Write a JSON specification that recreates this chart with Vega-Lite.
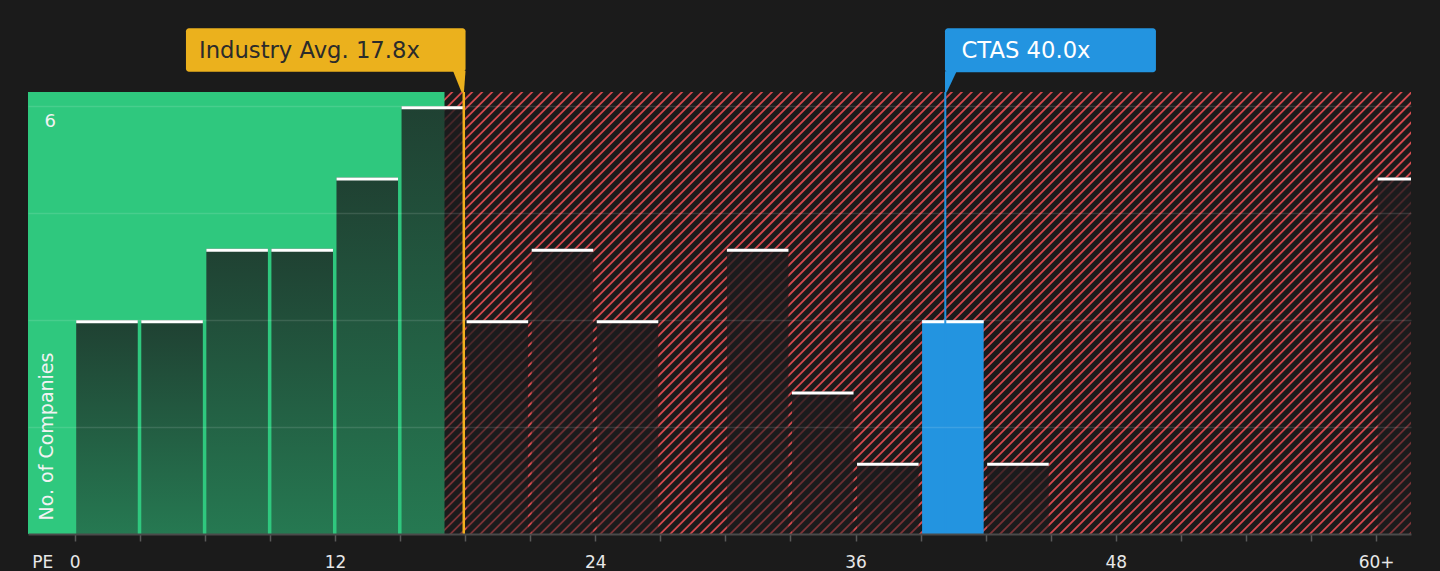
{
  "$schema": "https://vega.github.io/schema/vega-lite/v6.json",
  "width": 1383,
  "height": 442,
  "autosize": {"type": "none"},
  "padding": {"left": 28, "top": 92, "right": 29, "bottom": 37},
  "background": "#1b1b1b",
  "config": {"view": {"stroke": null}, "font": "DejaVu Sans"},
  "datasets": {
    "bins": [
      {"start": 0, "end": 3, "count": 3},
      {"start": 3, "end": 6, "count": 3},
      {"start": 6, "end": 9, "count": 4},
      {"start": 9, "end": 12, "count": 4},
      {"start": 12, "end": 15, "count": 5},
      {"start": 15, "end": 18, "count": 6},
      {"start": 18, "end": 21, "count": 3},
      {"start": 21, "end": 24, "count": 4},
      {"start": 24, "end": 27, "count": 3},
      {"start": 30, "end": 33, "count": 4},
      {"start": 33, "end": 36, "count": 2},
      {"start": 36, "end": 39, "count": 1},
      {"start": 39, "end": 42, "count": 3, "ctas": true},
      {"start": 42, "end": 45, "count": 1},
      {"start": 60, "end": 63, "count": 5}
    ]
  },
  "layer": [
    {
      "data": {"values": [{}]},
      "mark": {"type": "rule", "clip": true, "color": "#d64a4f", "strokeWidth": 1500, "strokeDash": [1.8, 5.27], "strokeCap": "butt"},
      "encoding": {
        "x": {
          "datum": -3.47, "type": "quantitative",
          "scale": {"domain": [-2.153, 61.61], "nice": false, "zero": false},
          "axis": {
            "title": null,
            "values": [-1.5, 0, 3, 6, 9, 12, 15, 18, 21, 24, 27, 30, 33, 36, 39, 42, 45, 48, 51, 54, 57, 60],
            "labelExpr": "datum.value < 0 ? 'PE' : (datum.value == 60 ? '60+' : (datum.value % 12 == 0 ? datum.label : ''))",
            "labelColor": "#e8e8e8",
            "labelFontSize": 17,
            "labelPadding": 13,
            "labelBaseline": "top",
            "labelOverlap": false,
            "labelFlush": false,
            "tickColor": "#5a5a5a",
            "tickSize": 7,
            "tickWidth": 1.5,
            "tickOpacity": {"condition": {"test": "datum.value < 0", "value": 0}, "value": 1},
            "domainColor": "#4a4a4a",
            "domainWidth": 2,
            "grid": false,
            "zindex": 1
          }
        },
        "x2": {"datum": 62.93},
        "y": {
          "datum": 13.19, "type": "quantitative",
          "scale": {"domain": [0, 6.2], "nice": false, "zero": false},
          "axis": {
            "title": "No. of Companies",
            "values": [1.5, 3, 4.5, 6],
            "labelExpr": "datum.value == 6 ? '6' : ''",
            "grid": true,
            "gridColor": "#ffffff",
            "gridOpacity": 0.12,
            "gridWidth": 1.5,
            "domain": false,
            "ticks": false,
            "tickSize": 0,
            "labelAlign": "left",
            "labelPadding": -16,
            "labelBaseline": "alphabetic",
            "labelOffset": 20.7,
            "labelColor": "#f2f2f2",
            "labelFontSize": 18,
            "titleColor": "#f2f2f2",
            "titleFontSize": 19,
            "titleFontWeight": "normal",
            "titleAngle": 270,
            "titleAlign": "left",
            "titleBaseline": "alphabetic",
            "titleX": 24,
            "titleY": 428,
            "zindex": 1
          }
        },
        "y2": {"datum": -6.99}
      }
    },
    {
      "data": {"values": [{}]},
      "mark": {"type": "rect", "clip": true, "color": "#2fc87e"},
      "encoding": {
        "x": {"datum": -3},
        "x2": {"datum": 17.05},
        "y": {"datum": 0},
        "y2": {"datum": 6.2}
      }
    },
    {
      "data": {"name": "bins"},
      "mark": {"type": "rect", "clip": true, "xOffset": 1.5, "x2Offset": -2},
      "encoding": {
        "x": {"field": "start", "type": "quantitative"},
        "x2": {"field": "end"},
        "y": {"field": "count", "type": "quantitative"},
        "y2": {"datum": 0},
        "fill": {
          "condition": {"test": "datum.ctas", "value": "#2394e0"},
          "value": {
            "gradient": "linear", "x1": 0, "y1": 0, "x2": 0, "y2": 1,
            "stops": [
              {"offset": 0, "color": "rgba(27,27,29,0.78)"},
              {"offset": 1, "color": "rgba(27,27,29,0.46)"}
            ]
          }
        }
      }
    },
    {
      "data": {"name": "bins"},
      "mark": {"type": "rule", "clip": true, "color": "#ffffff", "strokeWidth": 3, "xOffset": 1.5, "x2Offset": -2, "yOffset": 1.5},
      "encoding": {
        "x": {"field": "start", "type": "quantitative"},
        "x2": {"field": "end"},
        "y": {"field": "count", "type": "quantitative"}
      }
    },
    {
      "data": {"values": [{}]},
      "mark": {"type": "rule", "color": "#f2b01e", "strokeWidth": 2.5, "xOffset": 3},
      "encoding": {"x": {"datum": 17.8}, "y": {"datum": 0}, "y2": {"datum": 6.2}}
    },
    {
      "data": {"values": [{}]},
      "mark": {"type": "rule", "color": "#2394e0", "strokeWidth": 2, "xOffset": 3},
      "encoding": {"x": {"datum": 40}, "y": {"datum": 0}, "y2": {"datum": 6.2}}
    },
    {
      "data": {"values": [{}]},
      "mark": {"type": "rect", "color": "#ebb11d", "cornerRadius": 3},
      "encoding": {"x": {"datum": 5.13}, "x2": {"datum": 18.02}, "y": {"datum": 6.484}, "y2": {"datum": 7.094}}
    },
    {
      "data": {"values": [{}]},
      "mark": {"type": "point", "filled": true, "color": "#ebb11d", "opacity": 1, "size": 400, "strokeWidth": 0, "shape": "M-1.26,-0.1L0,-0.1L-0.16,2.05L-0.4,2.05Z"},
      "encoding": {"x": {"datum": 18.02}, "y": {"datum": 6.484}}
    },
    {
      "data": {"values": [{}]},
      "mark": {"type": "text", "text": "Industry Avg. 17.8x", "align": "left", "baseline": "alphabetic", "dx": 13, "fontSize": 22.7, "color": "#2b2b2b"},
      "encoding": {"x": {"datum": 5.13}, "y": {"datum": 6.683}}
    },
    {
      "data": {"values": [{}]},
      "mark": {"type": "rect", "color": "#2394e0", "cornerRadius": 3},
      "encoding": {"x": {"datum": 40.124}, "x2": {"datum": 49.85}, "y": {"datum": 6.477}, "y2": {"datum": 7.094}}
    },
    {
      "data": {"values": [{}]},
      "mark": {"type": "point", "filled": true, "color": "#2394e0", "opacity": 1, "size": 400, "strokeWidth": 0, "shape": "M0,-0.1L1.17,-0.1L0.18,2.0L0,2.0Z"},
      "encoding": {"x": {"datum": 40.124}, "y": {"datum": 6.477}}
    },
    {
      "data": {"values": [{}]},
      "mark": {"type": "text", "text": "CTAS 40.0x", "align": "left", "baseline": "alphabetic", "dx": 16.5, "fontSize": 22.7, "color": "#ffffff"},
      "encoding": {"x": {"datum": 40.124}, "y": {"datum": 6.683}}
    }
  ]
}
